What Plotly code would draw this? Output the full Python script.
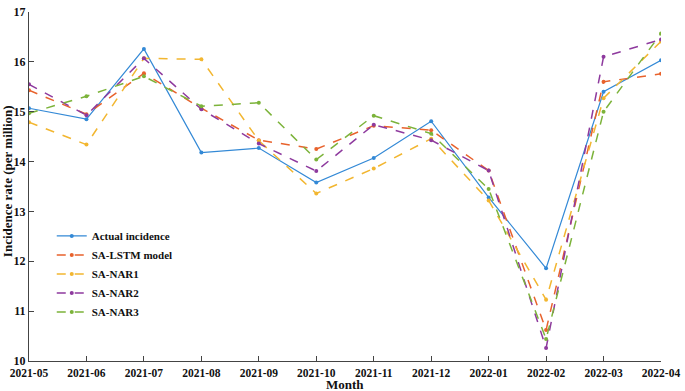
import plotly.graph_objects as go

months = ["2021-05", "2021-06", "2021-07", "2021-08", "2021-09", "2021-10",
          "2021-11", "2021-12", "2022-01", "2022-02", "2022-03", "2022-04"]

actual = [15.07, 14.85, 16.26, 14.18, 14.27, 13.58, 14.07, 14.81, 13.28, 11.86, 15.40, 16.03]
sa_lstm = [15.43, 14.95, 15.77, 15.07, 14.43, 14.25, 14.72, 14.63, 13.82, 10.62, 15.60, 15.76]
sa_nar1 = [14.79, 14.34, 16.07, 16.05, 14.42, 13.36, 13.86, 14.46, 13.22, 11.23, 15.27, 16.41]
sa_nar2 = [15.55, 14.93, 16.07, 15.05, 14.36, 13.81, 14.74, 14.43, 13.82, 10.26, 16.10, 16.45]
sa_nar3 = [14.97, 15.31, 15.71, 15.11, 15.18, 14.04, 14.92, 14.56, 13.45, 10.44, 15.00, 16.57]

series = [
    ("Actual incidence", actual, "#3389D6", "solid", 1.2),
    ("SA-LSTM model", sa_lstm, "#E8622C", "dash", 1.5),
    ("SA-NAR1", sa_nar1, "#F2B630", "dash", 1.5),
    ("SA-NAR2", sa_nar2, "#8E3A9E", "dash", 1.5),
    ("SA-NAR3", sa_nar3, "#7CB33A", "dash", 1.5),
]

fig = go.Figure()
for name, vals, color, dash, w in series:
    fig.add_trace(go.Scatter(
        x=months, y=vals, name=name, mode="lines+markers",
        line=dict(color=color, dash=dash, width=w),
        marker=dict(color=color, size=4),
    ))

font_family = "Liberation Serif, Times New Roman, serif"
axis_color = "#444444"

fig.update_layout(
    width=685, height=391,
    margin=dict(l=29, r=20, t=5, b=30),
    paper_bgcolor="white", plot_bgcolor="white",
    font=dict(family=font_family, size=12, color="#111111"),
    showlegend=True,
    legend=dict(
        x=0.036, y=0.40, xanchor="left", yanchor="top",
        font=dict(family=font_family, size=11, color="#111111", weight="bold"),
        bgcolor="rgba(0,0,0,0)", itemwidth=30,
    ),
    xaxis=dict(
        type="category", range=[0, 11],
        showline=True, linecolor=axis_color, linewidth=1,
        ticks="inside", ticklen=5, tickcolor=axis_color,
        showgrid=False, zeroline=False, ticklabeloverflow="allow",
        ticklabelstandoff=1,
        tickfont=dict(family=font_family, size=11.5, color="#111111", weight="bold"),
    ),
    yaxis=dict(
        range=[10, 17], dtick=1,
        showline=True, linecolor=axis_color, linewidth=1,
        ticks="inside", ticklen=5, tickcolor=axis_color,
        showgrid=False, zeroline=False, ticklabeloverflow="allow",
        tickfont=dict(family=font_family, size=12, color="#111111", weight="bold"),
    ),
    annotations=[
        dict(text="<b>Month</b>", xref="paper", yref="paper", x=0.5, y=-0.068,
             xanchor="center", yanchor="middle", showarrow=False,
             font=dict(family=font_family, size=13, color="#111111")),
        dict(text="<b>Incidence rate (per million)</b>", xref="paper", yref="paper",
             x=-0.034, y=0.514, xanchor="center", yanchor="middle", textangle=-90,
             showarrow=False, font=dict(family=font_family, size=13, color="#111111")),
    ],
)

fig.write_html("out.html", config={"displayModeBar": False},
               post_script="document.body.style.margin='0';")
